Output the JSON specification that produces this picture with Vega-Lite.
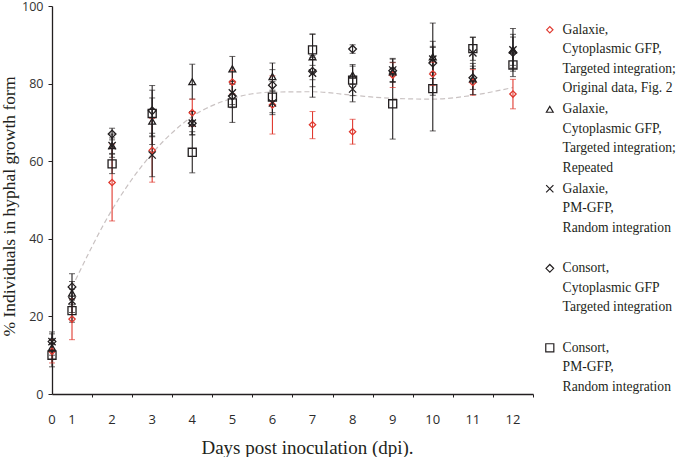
{
  "$schema": "https://vega.github.io/schema/vega-lite/v6.json",
  "width": 481,
  "height": 388,
  "autosize": {"type": "none"},
  "padding": {"left": 52, "top": 6, "right": 146, "bottom": 63},
  "background": "white",
  "config": {
    "view": {"stroke": null},
    "style": {"guide-label": {"lineHeight": 19.5}},
    "axis": {
      "domainColor": "#231f20",
      "tickColor": "#231f20",
      "labelColor": "#333333",
      "labelFont": "Open Sans",
      "labelFontSize": 12.5,
      "titleFont": "Liberation Serif",
      "titleFontWeight": "normal",
      "titleColor": "#231f20",
      "grid": false,
      "domainWidth": 1.3,
      "tickWidth": 1
    }
  },
  "datasets": {
    "pts": [
      {"s": "A", "day": 0, "v": 11, "lo": 8, "hi": 14},
      {"s": "A", "day": 1, "v": 19.3, "lo": 14, "hi": 24.5},
      {"s": "A", "day": 2, "v": 54.5, "lo": 44.6, "hi": 64.4},
      {"s": "A", "day": 3, "v": 62.8, "lo": 54.6, "hi": 71},
      {"s": "A", "day": 4, "v": 72.5, "lo": 69, "hi": 76},
      {"s": "A", "day": 5, "v": 80.4, "lo": 77.4, "hi": 83.4},
      {"s": "A", "day": 6, "v": 74.5, "lo": 67, "hi": 82},
      {"s": "A", "day": 7, "v": 69.4, "lo": 65.8, "hi": 72.8},
      {"s": "A", "day": 8, "v": 67.6, "lo": 64.4, "hi": 70.8},
      {"s": "A", "day": 9, "v": 82.2, "lo": 79, "hi": 85.4},
      {"s": "A", "day": 10, "v": 82.5, "lo": 79.5, "hi": 85.5},
      {"s": "A", "day": 11, "v": 80.3, "lo": 77, "hi": 83.6},
      {"s": "A", "day": 12, "v": 77.3, "lo": 73.5, "hi": 81.1},
      {"s": "B", "day": 0, "v": 12, "lo": 10, "hi": 14},
      {"s": "B", "day": 1, "v": 26, "lo": 23, "hi": 29},
      {"s": "B", "day": 2, "v": 64, "lo": 61, "hi": 67},
      {"s": "B", "day": 3, "v": 70.3, "lo": 64.3, "hi": 76.3},
      {"s": "B", "day": 4, "v": 80.5, "lo": 76, "hi": 85},
      {"s": "B", "day": 5, "v": 83.8, "lo": 80.6, "hi": 87},
      {"s": "B", "day": 6, "v": 81.8, "lo": 78.3, "hi": 85.3},
      {"s": "B", "day": 7, "v": 86.9, "lo": 81, "hi": 92.8},
      {"s": "B", "day": 8, "v": 82.2, "lo": 79.9, "hi": 84.5},
      {"s": "B", "day": 9, "v": 83, "lo": 80.5, "hi": 85.5},
      {"s": "B", "day": 10, "v": 86.9, "lo": 82.9, "hi": 90.9},
      {"s": "B", "day": 11, "v": 81.2, "lo": 77.2, "hi": 85.2},
      {"s": "B", "day": 12, "v": 88.7, "lo": 84.7, "hi": 92.7},
      {"s": "C", "day": 0, "v": 13.5, "lo": 11.5, "hi": 15.5},
      {"s": "C", "day": 1, "v": 24, "lo": 21, "hi": 27},
      {"s": "C", "day": 2, "v": 64, "lo": 62, "hi": 66},
      {"s": "C", "day": 3, "v": 61.6, "lo": 56, "hi": 67.2},
      {"s": "C", "day": 4, "v": 69.8, "lo": 66.8, "hi": 72.8},
      {"s": "C", "day": 5, "v": 77.6, "lo": 74.6, "hi": 80.6},
      {"s": "C", "day": 6, "v": 75, "lo": 72, "hi": 78},
      {"s": "C", "day": 7, "v": 82.7, "lo": 76.5, "hi": 86.7},
      {"s": "C", "day": 8, "v": 78.6, "lo": 75.3, "hi": 81.9},
      {"s": "C", "day": 9, "v": 83.5, "lo": 80.5, "hi": 86.5},
      {"s": "C", "day": 10, "v": 86.3, "lo": 77, "hi": 95.6},
      {"s": "C", "day": 11, "v": 87.9, "lo": 83.9, "hi": 91.9},
      {"s": "C", "day": 12, "v": 88.7, "lo": 83.2, "hi": 94.2},
      {"s": "D", "day": 0, "v": 13.5, "lo": 11, "hi": 16},
      {"s": "D", "day": 1, "v": 27.6, "lo": 24.2, "hi": 31},
      {"s": "D", "day": 2, "v": 67, "lo": 65.5, "hi": 68.5},
      {"s": "D", "day": 3, "v": 73, "lo": 66.5, "hi": 79.5},
      {"s": "D", "day": 4, "v": 69.8, "lo": 66.8, "hi": 72.8},
      {"s": "D", "day": 5, "v": 76.8, "lo": 73.8, "hi": 79.8},
      {"s": "D", "day": 6, "v": 79.6, "lo": 75.6, "hi": 83.6},
      {"s": "D", "day": 7, "v": 83.2, "lo": 79.2, "hi": 87.2},
      {"s": "D", "day": 8, "v": 88.9, "lo": 87.8, "hi": 90},
      {"s": "D", "day": 9, "v": 83.3, "lo": 80.3, "hi": 86.3},
      {"s": "D", "day": 10, "v": 85.3, "lo": 81.3, "hi": 89.3},
      {"s": "D", "day": 11, "v": 81.5, "lo": 78.5, "hi": 84.5},
      {"s": "D", "day": 12, "v": 88, "lo": 84, "hi": 92},
      {"s": "E", "day": 0, "v": 10, "lo": 7, "hi": 13},
      {"s": "E", "day": 1, "v": 21.5, "lo": 18.5, "hi": 24.5},
      {"s": "E", "day": 2, "v": 59.3, "lo": 56.8, "hi": 61.8},
      {"s": "E", "day": 3, "v": 72.3, "lo": 66.3, "hi": 78.3},
      {"s": "E", "day": 4, "v": 62.3, "lo": 57, "hi": 67.6},
      {"s": "E", "day": 5, "v": 75, "lo": 70, "hi": 80},
      {"s": "E", "day": 6, "v": 76.5, "lo": 72.5, "hi": 80.5},
      {"s": "E", "day": 7, "v": 88.7, "lo": 84.7, "hi": 92.7},
      {"s": "E", "day": 8, "v": 80.9, "lo": 76.9, "hi": 84.9},
      {"s": "E", "day": 9, "v": 74.8, "lo": 65.7, "hi": 83.9},
      {"s": "E", "day": 10, "v": 78.7, "lo": 67.8, "hi": 89.6},
      {"s": "E", "day": 11, "v": 89, "lo": 86, "hi": 92},
      {"s": "E", "day": 12, "v": 84.8, "lo": 81.8, "hi": 87.8}
    ],
    "trend": [
      {"day": 1, "v": 27.5},
      {"day": 2, "v": 47.5},
      {"day": 3, "v": 62},
      {"day": 4, "v": 71.5},
      {"day": 5, "v": 76.2},
      {"day": 6, "v": 77.8},
      {"day": 7, "v": 77.9},
      {"day": 8, "v": 77},
      {"day": 9, "v": 76.2},
      {"day": 10, "v": 76},
      {"day": 11, "v": 77},
      {"day": 12, "v": 79}
    ]
  },
  "encoding": {
    "x": {
      "field": "day",
      "type": "quantitative",
      "scale": {"domain": [0, 1, 12.5], "range": [0, 20, 481], "nice": false, "zero": false},
      "axis": {
        "title": "Days post inoculation (dpi).",
        "titleFontSize": 19,
        "values": [0, 1, 2, 3, 4, 5, 6, 7, 8, 9, 10, 11, 12],
        "format": "d",
        "labelColor": "#2b2b2b",
        "labelFontSize": 13,
        "tickOffset": 20,
        "labelOffset": -20.5,
        "tickOpacity": {"condition": {"test": "datum.value === 0", "value": 0}, "value": 1},
        "tickSize": 3,
        "labelPadding": 16,
        "labelOverlap": false,
        "labelFlush": false,
        "labelBound": false,
        "titlePadding": 12,
        "titleX": 255
      }
    },
    "y": {
      "type": "quantitative",
      "scale": {"domain": [0, 100], "nice": false},
      "axis": {
        "title": "% Individuals in hyphal growth form",
        "titleFontSize": 17.5,
        "values": [0, 20, 40, 60, 80, 100],
        "tickSize": 4,
        "labelPadding": 5,
        "titlePadding": 3,
        "titleY": 200
      }
    }
  },
  "layer": [
    {
      "data": {"name": "trend"},
      "mark": {"type": "line", "color": "#c9c2c2", "strokeWidth": 1.2, "strokeDash": [5, 3], "interpolate": "monotone"},
      "encoding": {
        "y": {"field": "v", "type": "quantitative"}
      }
    },
    {
      "data": {"name": "pts"},
      "mark": {"type": "rule", "strokeWidth": 1.1},
      "encoding": {
        "y": {"field": "lo", "type": "quantitative"},
        "y2": {"field": "hi"},
        "color": {"condition": {"test": "datum.s === 'A'", "value": "#e0392f"}, "value": "#231f20"}
      }
    },
    {
      "data": {"name": "pts"},
      "mark": {"type": "tick", "orient": "horizontal", "size": 6, "thickness": 1},
      "encoding": {
        "y": {"field": "lo", "type": "quantitative"},
        "color": {"condition": {"test": "datum.s === 'A'", "value": "#e0392f"}, "value": "#231f20"}
      }
    },
    {
      "data": {"name": "pts"},
      "mark": {"type": "tick", "orient": "horizontal", "size": 6, "thickness": 1},
      "encoding": {
        "y": {"field": "hi", "type": "quantitative"},
        "color": {"condition": {"test": "datum.s === 'A'", "value": "#e0392f"}, "value": "#231f20"}
      }
    },
    {
      "data": {"name": "pts"},
      "mark": {"type": "point", "filled": false, "strokeWidth": 1.3, "opacity": 1},
      "encoding": {
        "y": {"field": "v", "type": "quantitative"},
        "color": {
          "field": "s", "type": "nominal",
          "scale": {"domain": ["A", "B", "C", "D", "E"], "range": ["#e0392f", "#231f20", "#231f20", "#231f20", "#231f20"]},
          "legend": {
            "title": null,
            "orient": "none",
            "legendX": 491,
            "legendY": 17,
            "padding": 0,
            "rowPadding": 6.5,
            "labelFont": "Liberation Serif",
            "labelFontSize": 13.6,
            "labelColor": "#231f20",
            "labelLimit": 0,
            "labelOffset": 6,
            "labelBaseline": "middle",
            "symbolSize": 55,
            "symbolStrokeWidth": 1.2,
            "labelExpr": "datum.label === 'A' ? ['Galaxie,', 'Cytoplasmic GFP,', 'Targeted integration;', 'Original data, Fig. 2'] : datum.label === 'B' ? ['Galaxie,', 'Cytoplasmic GFP,', 'Targeted integration;', 'Repeated'] : datum.label === 'C' ? ['Galaxie,', 'PM-GFP,', 'Random integration', ' '] : datum.label === 'D' ? ['Consort,', 'Cytoplasmic GFP', 'Targeted integration', ' '] : ['Consort,', 'PM-GFP,', 'Random integration', ' ']",
            "encode": {"labels": {"lineHeight": {"value": 19.5}}}
          }
        },
        "shape": {
          "field": "s", "type": "nominal",
          "scale": {"domain": ["A", "B", "C", "D", "E"], "range": ["diamond", "triangle-up", "M-1,-1L1,1M-1,1L1,-1", "diamond", "square"]},
          "legend": {
            "title": null,
            "orient": "none",
            "legendX": 491,
            "legendY": 17,
            "padding": 0,
            "rowPadding": 6.5,
            "labelFont": "Liberation Serif",
            "labelFontSize": 13.6,
            "labelColor": "#231f20",
            "labelLimit": 0,
            "labelOffset": 6,
            "labelBaseline": "middle",
            "symbolSize": 55,
            "symbolStrokeWidth": 1.2,
            "labelExpr": "datum.label === 'A' ? ['Galaxie,', 'Cytoplasmic GFP,', 'Targeted integration;', 'Original data, Fig. 2'] : datum.label === 'B' ? ['Galaxie,', 'Cytoplasmic GFP,', 'Targeted integration;', 'Repeated'] : datum.label === 'C' ? ['Galaxie,', 'PM-GFP,', 'Random integration', ' '] : datum.label === 'D' ? ['Consort,', 'Cytoplasmic GFP', 'Targeted integration', ' '] : ['Consort,', 'PM-GFP,', 'Random integration', ' ']",
            "encode": {"labels": {"lineHeight": {"value": 19.5}}}
          }
        },
        "size": {
          "field": "s", "type": "nominal", "legend": null,
          "scale": {"domain": ["A", "B", "C", "D", "E"], "range": [40, 65, 45, 50, 80]}
        }
      }
    }
  ]
}
